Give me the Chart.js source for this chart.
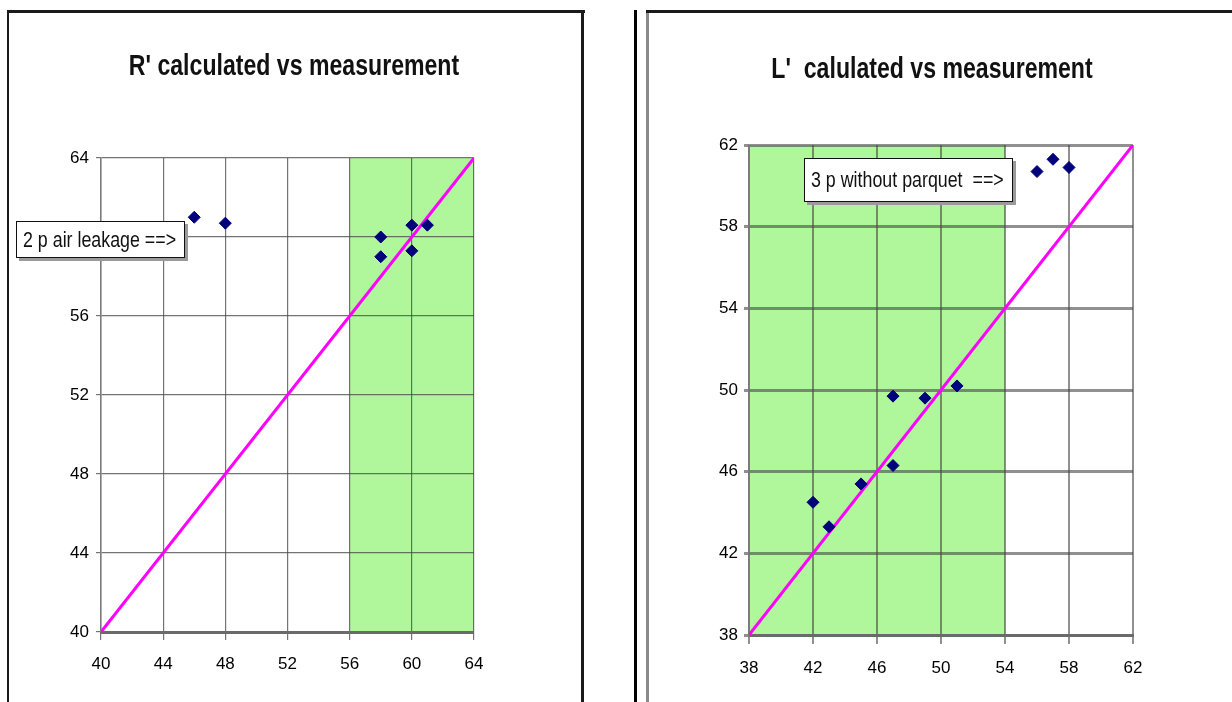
<!DOCTYPE html>
<html>
<head>
<meta charset="utf-8">
<script src="https://cdn.jsdelivr.net/npm/chart.js@4.4.1/dist/chart.umd.min.js"></script>
<style>
  html, body { margin: 0; padding: 0; background: #fff; }
  body { width: 1232px; height: 702px; position: relative; overflow: hidden; font-family: "Liberation Sans", Arial, sans-serif; }
  .frame { position: absolute; background: #1a1a1a; }
  .wrap { position: absolute; top: 0; height: 702px; }
  .note { position: absolute; background: #fff; border: 1.5px solid #111; box-shadow: 3px 3px 0 #9a9a9a; color: #111; font-size: 22px; line-height: 1; display: flex; align-items: center; white-space: pre; box-sizing: border-box; padding-left: 6px; overflow: hidden; }
  .note span { display: inline-block; transform: scaleX(0.81); transform-origin: left center; }
</style>
</head>
<body>
<!-- panel frames -->
<div class="frame" style="left:7px; top:10px; width:2px; height:700px;"></div>
<div class="frame" style="left:7px; top:10px; width:578px; height:3px;"></div>
<div class="frame" style="left:581px; top:10px; width:3px; height:700px;"></div>
<div class="frame" style="left:634px; top:10px; width:3px; height:700px; background:#000;"></div>
<div class="frame" style="left:646px; top:10px; width:3px; height:700px; background:#8a8a8a;"></div>
<div class="frame" style="left:646px; top:10px; width:600px; height:3px;"></div>

<div class="wrap" style="left:0; width:588px;"><canvas id="cR" width="588" height="702"></canvas></div>
<div class="wrap" style="left:620px; width:624px;"><canvas id="cL" width="624" height="702"></canvas></div>

<div class="note" style="left:16px; top:221px; width:169px; height:37px;"><span>2 p air leakage ==&gt;</span></div>
<div class="note" style="left:804px; top:158px; width:209px; height:44px;"><span>3 p without parquet  ==&gt;</span></div>

<script>
// ---------- data ----------
// R' chart
const rTitle = "R' calculated vs measurement";
const rX = [46, 48, 58, 58, 60, 60, 61];
const rY = [61.0, 60.7, 60.0, 59.0, 60.6, 59.3, 60.6];
const rTicks = [40, 44, 48, 52, 56, 60, 64];
const rBand = [56, 64];
const rLine = [40, 64];

// L' chart
const lTitle = "L'  calulated vs measurement";
const lX = [42, 43, 45, 47, 47, 49, 51, 56, 57, 58];
const lY = [44.5, 43.3, 45.4, 46.3, 49.7, 49.6, 50.2, 60.7, 61.3, 60.9];
const lTicks = [38, 42, 46, 50, 54, 58, 62];
const lBand = [38, 54];
const lLine = [38, 62];

const FONT = "'Liberation Sans', Arial, sans-serif";

const bandPlugin = {
  id: 'band',
  beforeDraw(chart, args, opts) {
    const { ctx, chartArea, scales } = chart;
    const x0 = scales.x.getPixelForValue(opts.from);
    const x1 = scales.x.getPixelForValue(opts.to);
    ctx.save();
    ctx.fillStyle = opts.color;
    ctx.fillRect(x0, chartArea.top, x1 - x0, chartArea.bottom - chartArea.top);
    ctx.restore();
  }
};

// narrow (condensed) chart title, drawn as canvas text
const narrowTitle = {
  id: 'narrowTitle',
  afterDraw(chart, args, o) {
    const ctx = chart.ctx;
    ctx.save();
    ctx.font = 'bold ' + o.size + 'px ' + FONT;
    ctx.fillStyle = o.color;
    ctx.textAlign = 'center';
    ctx.textBaseline = 'middle';
    ctx.translate(chart.width / 2, o.y);
    ctx.scale(o.scaleX, 1);
    ctx.fillText(o.text, 0, 0);
    ctx.restore();
  }
};

function makeChart(id, cfg) {
  const pts = cfg.xs.map((v, i) => ({ x: v, y: cfg.ys[i] }));
  const line = cfg.line.map(v => ({ x: v, y: v }));
  const tickSet = s => { s.ticks = cfg.ticks.map(v => ({ value: v })); };
  return new Chart(document.getElementById(id), {
    type: 'scatter',
    data: {
      datasets: [
        {
          data: pts,
          pointStyle: 'rectRot',
          pointRadius: 6,
          backgroundColor: '#00007a',
          borderColor: '#00007a',
          borderWidth: 1
        },
        {
          type: 'line',
          data: line,
          borderColor: '#ff00ff',
          borderWidth: 3,
          pointRadius: 0,
          fill: false
        }
      ]
    },
    options: {
      responsive: false,
      animation: false,
      layout: { padding: { top: cfg.top, left: 0, right: 0, bottom: 0 } },
      plugins: {
        legend: { display: false },
        tooltip: { enabled: false },
        title: { display: false },
        narrowTitle: { text: cfg.title, y: cfg.titleY, size: 30, scaleX: 0.77, color: '#111' },
        band: { from: cfg.band[0], to: cfg.band[1], color: '#b0f79c' }
      },
      scales: {
        x: {
          type: 'linear',
          min: cfg.ticks[0],
          max: cfg.ticks[cfg.ticks.length - 1],
          afterBuildTicks: tickSet,
          afterFit: s => { s.height = cfg.xHeight; },
          grid: { color: cfg.gridColor, lineWidth: cfg.vGridWidth, tickLength: cfg.xTickLen, tickColor: cfg.gridColor },
          border: { color: '#6a6a6a', width: 3 },
          ticks: { color: '#000', padding: cfg.xPad, font: { family: FONT, size: 17 }, maxRotation: 0 }
        },
        y: {
          type: 'linear',
          position: 'left',
          min: cfg.ticks[0],
          max: cfg.ticks[cfg.ticks.length - 1],
          afterBuildTicks: tickSet,
          afterFit: s => { s.width = cfg.yWidth; },
          grid: { color: cfg.gridColor, lineWidth: cfg.hGridWidth, tickLength: 5, tickColor: cfg.gridColor },
          border: { color: '#7a7a7a', width: 1.5 },
          ticks: { color: '#000', padding: cfg.yPad, font: { family: FONT, size: 17 } }
        },
        y2: {
          type: 'linear',
          position: 'right',
          afterFit: s => { s.width = cfg.rightSpace; },
          grid: { display: false, drawTicks: false },
          border: { display: false },
          ticks: { display: false }
        }
      }
    },
    plugins: [bandPlugin, narrowTitle]
  });
}

makeChart('cR', {
  title: rTitle, xs: rX, ys: rY, ticks: rTicks, band: rBand, line: rLine,
  top: 158, titleY: 67, xHeight: 70, yWidth: 101, rightSpace: 114,
  xTickLen: 8, xPad: 14, yPad: 7,
  gridColor: 'rgba(70,70,70,0.75)', vGridWidth: 1.2, hGridWidth: 1.2
});

makeChart('cL', {
  title: lTitle, xs: lX, ys: lY, ticks: lTicks, band: lBand, line: lLine,
  top: 145, titleY: 70, xHeight: 67, yWidth: 129, rightSpace: 111,
  xTickLen: 9, xPad: 14, yPad: 6,
  gridColor: 'rgba(70,70,70,0.6)', vGridWidth: 2, hGridWidth: 3
});
</script>
</body>
</html>
